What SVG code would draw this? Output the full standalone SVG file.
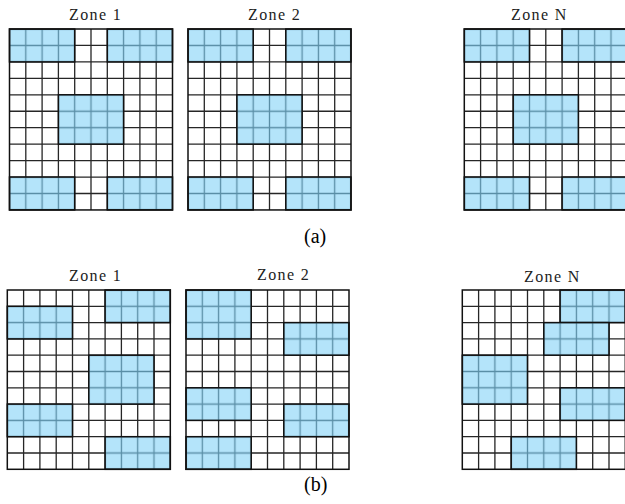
<svg xmlns="http://www.w3.org/2000/svg" xmlns:xlink="http://www.w3.org/1999/xlink" width="625" height="504" viewBox="0 0 625 504">
<style>
.bg{fill:#fff}
.ln{fill:none;stroke:#262626;stroke-width:1.3}
.border{fill:none;stroke:#111;stroke-width:1.5}
.blk{stroke:#111;stroke-width:1.5}
.lbl{font-size:16px;letter-spacing:1.4px;fill:#222}
.cap{font-size:20px;fill:#000}
</style>
<defs>
<pattern id="pa" patternUnits="userSpaceOnUse" x="-8.15" y="-8.225" width="16.3" height="16.45">
<rect width="16.3" height="16.45" fill="#b4e4fa"/>
<path d="M8.15 0V16.45M0 8.225H16.3" stroke="#5a8ea6" stroke-width="1.3" fill="none"/>
</pattern>
<pattern id="pb" patternUnits="userSpaceOnUse" x="-8.15" y="-8.15" width="16.3" height="16.3">
<rect width="16.3" height="16.3" fill="#b4e4fa"/>
<path d="M8.15 0V16.3M0 8.15H16.3" stroke="#5a8ea6" stroke-width="1.3" fill="none"/>
</pattern>
<g id="gridA">
<rect class="bg" width="163" height="180.95"/>
<path class="ln" d="M16.3 0V180.95M32.6 0V180.95M48.9 0V180.95M65.2 0V180.95M81.5 0V180.95M97.8 0V180.95M114.1 0V180.95M130.4 0V180.95M146.7 0V180.95M0 16.45H163M0 32.9H163M0 49.35H163M0 65.8H163M0 82.25H163M0 98.7H163M0 115.15H163M0 131.6H163M0 148.05H163M0 164.5H163"/>
</g>
<g id="gridB">
<rect class="bg" width="163" height="179.3"/>
<path class="ln" d="M16.3 0V179.3M32.6 0V179.3M48.9 0V179.3M65.2 0V179.3M81.5 0V179.3M97.8 0V179.3M114.1 0V179.3M130.4 0V179.3M146.7 0V179.3M0 16.3H163M0 32.6H163M0 48.9H163M0 65.2H163M0 81.5H163M0 97.8H163M0 114.1H163M0 130.4H163M0 146.7H163M0 163H163"/>
</g>
<g id="blocksA">
<rect class="blk" fill="url(#pa)" x="0" y="0" width="65.2" height="32.9"/>
<rect class="blk" fill="url(#pa)" x="97.8" y="0" width="65.2" height="32.9"/>
<rect class="blk" fill="url(#pa)" x="48.9" y="65.8" width="65.2" height="49.35"/>
<rect class="blk" fill="url(#pa)" x="0" y="148.05" width="65.2" height="32.9"/>
<rect class="blk" fill="url(#pa)" x="97.8" y="148.05" width="65.2" height="32.9"/>
<rect class="border" width="163" height="180.95"/>
</g>
</defs>
<rect width="625" height="504" fill="#fff"/>

<g id="zone1-a" transform="translate(9.5,29)">
<use xlink:href="#gridA"/>
<use xlink:href="#blocksA"/>
</g>
<g id="zone2-a" transform="translate(188,29)">
<use xlink:href="#gridA"/>
<use xlink:href="#blocksA"/>
</g>
<g id="zoneN-a" transform="translate(464.3,29)">
<use xlink:href="#gridA"/>
<use xlink:href="#blocksA"/>
</g>

<g id="zone1-b" transform="translate(7.3,290)">
<use xlink:href="#gridB"/>
<rect class="blk" fill="url(#pb)" x="97.8" y="0" width="65.2" height="32.6"/>
<rect class="blk" fill="url(#pb)" x="0" y="16.3" width="65.2" height="32.6"/>
<rect class="blk" fill="url(#pb)" x="81.5" y="65.2" width="65.2" height="48.9"/>
<rect class="blk" fill="url(#pb)" x="0" y="114.1" width="65.2" height="32.6"/>
<rect class="blk" fill="url(#pb)" x="97.8" y="146.7" width="65.2" height="32.6"/>
<rect class="border" width="163" height="179.3"/>
</g>
<g id="zone2-b" transform="translate(186,290)">
<use xlink:href="#gridB"/>
<rect class="blk" fill="url(#pb)" x="0" y="0" width="65.2" height="48.9"/>
<rect class="blk" fill="url(#pb)" x="97.8" y="32.6" width="65.2" height="32.6"/>
<rect class="blk" fill="url(#pb)" x="0" y="97.8" width="65.2" height="32.6"/>
<rect class="blk" fill="url(#pb)" x="97.8" y="114.1" width="65.2" height="32.6"/>
<rect class="blk" fill="url(#pb)" x="0" y="146.7" width="65.2" height="32.6"/>
<rect class="border" width="163" height="179.3"/>
</g>
<g id="zoneN-b" transform="translate(462.3,290)">
<use xlink:href="#gridB"/>
<rect class="blk" fill="url(#pb)" x="97.8" y="0" width="65.2" height="32.6"/>
<rect class="blk" fill="url(#pb)" x="81.5" y="32.6" width="65.2" height="32.6"/>
<rect class="blk" fill="url(#pb)" x="0" y="65.2" width="65.2" height="48.9"/>
<rect class="blk" fill="url(#pb)" x="97.8" y="97.8" width="65.2" height="32.6"/>
<rect class="blk" fill="url(#pb)" x="48.9" y="146.7" width="65.2" height="32.6"/>
<rect class="border" width="163" height="179.3"/>
</g>

<g id="labels" font-family="'Liberation Serif', 'Times New Roman', 'DejaVu Serif', serif">
<text class="lbl" x="69" y="20">Zone 1</text>
<text class="lbl" x="248" y="20">Zone 2</text>
<text class="lbl" x="511" y="20">Zone N</text>
<text class="cap" x="304" y="243">(a)</text>
<text class="lbl" x="69" y="281">Zone 1</text>
<text class="lbl" x="257" y="280">Zone 2</text>
<text class="lbl" x="524" y="282">Zone N</text>
<text class="cap" x="304" y="491">(b)</text>
</g>
</svg>
